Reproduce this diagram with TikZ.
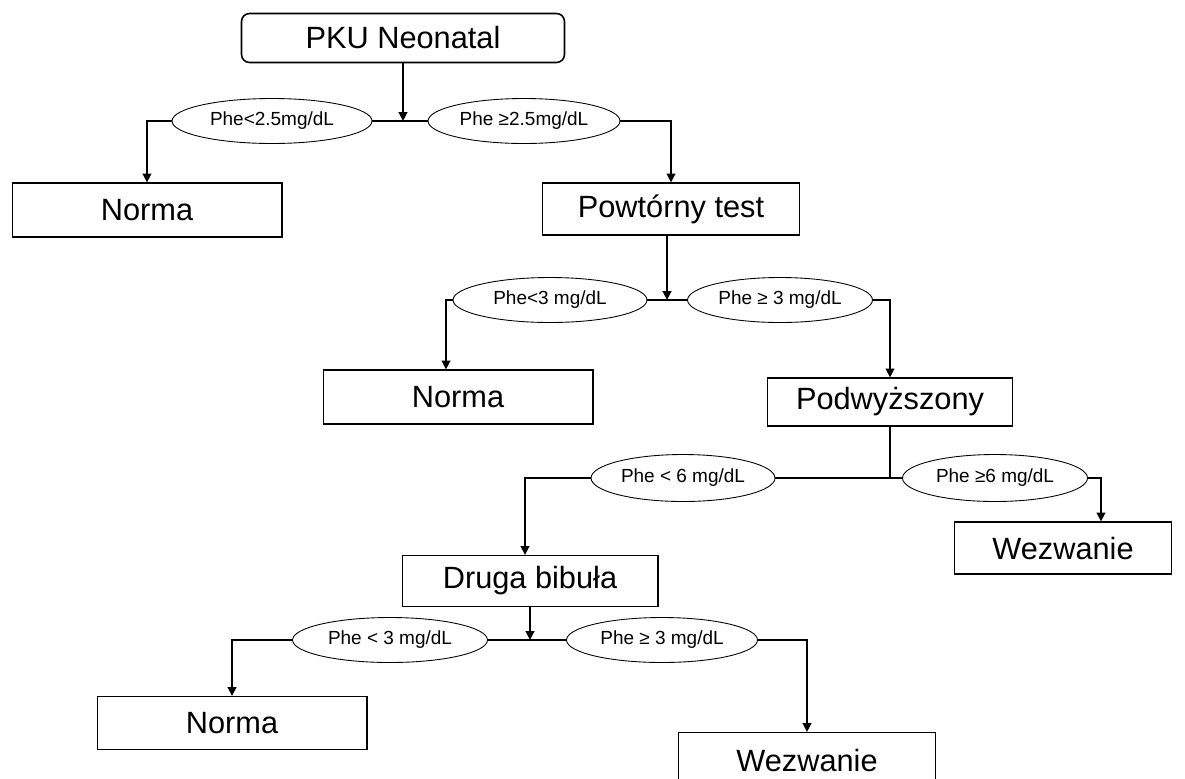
\documentclass[tikz,border=0pt]{standalone}
\usepackage{fontspec}
\setmainfont{Liberation Sans}
\usepackage{tikz}
\usetikzlibrary{
  arrows.meta,
  positioning,
  shapes.geometric
}
\definecolor{InkBlack}{RGB}{0,0,0}
\tikzset{
  startbox/.style={draw=InkBlack,rounded corners=1.6mm,line width=0.9pt,minimum width=6.46cm,minimum height=0.98cm,align=center,font=\fontsize{17.5}{20}\selectfont},
  resultbox/.style={draw=InkBlack,line width=0.6pt,minimum height=1.08cm,align=center,font=\fontsize{17.5}{20}\selectfont},
  condnode/.style={draw=InkBlack,ellipse,line width=0.5pt,inner sep=0pt,minimum height=0.9cm,font=\fontsize{10.8}{13}\selectfont},
  branch/.style={line width=1.2pt,draw=InkBlack},
  flowarrow/.style={-{Triangle[length=5pt,width=4.8pt]},line width=1.2pt,draw=InkBlack}
}

\begin{document}
\begin{tikzpicture}[x=0.02cm,y=-0.02cm]
\useasboundingbox (0,0) rectangle (1185,778);

\node[startbox] (pku) at (403,38) {PKU Neonatal};

% first test
\node[condnode, minimum width=4cm] (c1l) at (272,121) {Phe<2.5mg/dL};
\node[condnode, minimum width=3.84cm] (c1r) at (524,121) {Phe ≥2.5mg/dL};
\node[resultbox, minimum width=5.4cm] (norma1) at (147,210) {Norma};
\node[resultbox, minimum width=5.14cm, minimum height=1.04cm] (powt) at (671,209) {Powtórny test};

% second test
\node[condnode, minimum width=3.88cm] (c2l) at (550,300) {Phe<3 mg/dL};
\node[condnode, minimum width=3.7cm] (c2r) at (780,300) {Phe ≥ 3 mg/dL};
\node[resultbox, minimum width=5.4cm] (norma2) at (458,397) {Norma};
\node[resultbox, minimum width=4.9cm, minimum height=0.96cm] (podw) at (890,402) {Podwyższony};

% third test
\node[condnode, minimum width=3.68cm, minimum height=0.94cm] (c3l) at (683,478) {Phe < 6 mg/dL};
\node[condnode, minimum width=3.7cm, minimum height=0.94cm] (c3r) at (995,478) {Phe ≥6 mg/dL};
\node[resultbox, minimum width=5.12cm, minimum height=1.02cm] (druga) at (530,581) {Druga bibuła};
\node[resultbox, minimum width=4.34cm, minimum height=1.04cm] (wez1) at (1063,548) {Wezwanie};

% second blot
\node[condnode, minimum width=3.9cm] (c4l) at (390,640) {Phe < 3 mg/dL};
\node[condnode, minimum width=3.82cm] (c4r) at (662,640) {Phe ≥ 3 mg/dL};
\node[resultbox, minimum width=5.4cm, minimum height=1.06cm] (norma3) at (232,723) {Norma};
\node[resultbox, minimum width=5.14cm, minimum height=1.1cm] (wez2) at (807,760) {Wezwanie};

\draw[flowarrow] (pku) -- (pku |- c1l.east);
\draw[branch] (c1l.east) -- (c1r.west);
\draw[flowarrow] (c1l.west) -| (norma1);
\draw[flowarrow] (c1r.east) -| (powt);

\draw[flowarrow] ([xshift=-0.08cm]powt.south) -- ([xshift=-0.08cm]powt.south |- c2l.east);
\draw[branch] (c2l.east) -- (c2r.west);
\draw[flowarrow] (c2l.west) -| ([xshift=-0.24cm]norma2.north);
\draw[flowarrow] (c2r.east) -| (podw);

\draw[branch] (podw) -- (podw |- c3l.east);
\draw[branch] (c3l.east) -- (c3r.west);
\draw[flowarrow] (c3l.west) -| ([xshift=-0.1cm]druga.north);
\draw[flowarrow] (c3r.east) -| ([xshift=0.76cm]wez1.north);

\draw[flowarrow] (druga) -- (druga |- c4l.east);
\draw[branch] (c4l.east) -- (c4r.west);
\draw[flowarrow] (c4l.west) -| (norma3);
\draw[flowarrow] (c4r.east) -| (wez2);
\end{tikzpicture}
\end{document}
